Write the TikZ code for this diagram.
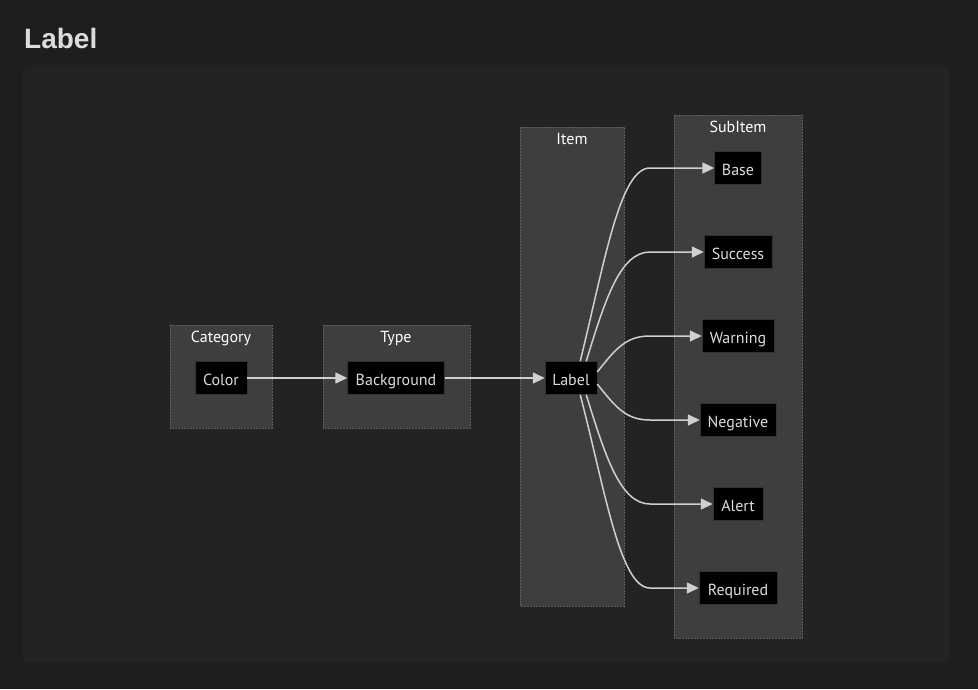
\documentclass[tikz,border=0pt]{standalone}
\usepackage{fontspec}
\setmainfont{PT Sans}
\newfontfamily\titlefont{Liberation Sans}
\usetikzlibrary{arrows.meta}
\definecolor{outerbg}{HTML}{1E1E1E}
\definecolor{panelbg}{HTML}{232323}
\definecolor{clusterfill}{HTML}{3D3E3D}
\definecolor{clusterline}{HTML}{5E5E5E}
\definecolor{edgecol}{HTML}{D0D0D0}
\definecolor{txtcol}{HTML}{DCDCDC}
\tikzset{
  cluster/.style={draw=clusterline, fill=clusterfill, line width=0.8pt, dash pattern=on 2pt off 1pt},
  clabel/.style={text=white, font=\fontsize{16}{17}\selectfont, inner sep=0pt, text height=11pt, text depth=3pt},
  box/.style={fill=black, draw=black!80, text=txtcol, font=\fontsize{16}{17}\selectfont, minimum height=33pt, inner xsep=2pt, inner ysep=0pt, text height=14pt, text depth=0pt},
  arr/.style={draw=edgecol, line width=1.5pt, -{Triangle[length=12pt,width=11pt]}},
}
\begin{document}
\begin{tikzpicture}[x=1pt,y=-1pt]
\useasboundingbox (0,0) rectangle (978,689);
\fill[outerbg] (0,0) rectangle (978,689);
\fill[panelbg, rounded corners=4pt] (23,67) rectangle (949,662);
\node[anchor=west, text=txtcol, font=\titlefont\bfseries\fontsize{28}{30}\selectfont, inner sep=0pt] (title) at (24,38) {Label};

% clusters
\draw[cluster] (170,325) rectangle (272,428);
\node[clabel] (catl) at (221,338) {Category};
\draw[cluster] (323,325) rectangle (470,428);
\node[clabel] (typel) at (396,338) {Type};
\draw[cluster] (520,127) rectangle (624,606);
\node[clabel] (iteml) at (572,140) {Item};
\draw[cluster] (674,115) rectangle (802,638);
\node[clabel] (subl) at (738,128) {SubItem};

% nodes
\node[box, minimum width=52pt] (color) at (221,378) {Color};
\node[box, minimum width=97pt] (bg) at (396,378) {Background};
\node[box, minimum width=52pt] (lab) at (571,378) {Label};
\node[box, minimum width=47pt] (base) at (738,168) {Base};
\node[box, minimum width=68pt] (succ) at (738,252) {Success};
\node[box, minimum width=72pt] (warn) at (738,336) {Warning};
\node[box, minimum width=76pt] (neg) at (738,420) {Negative};
\node[box, minimum width=50pt] (alert) at (738,504) {Alert};
\node[box, minimum width=78pt] (req) at (738,588) {Required};

% edges
\draw[arr] (color) -- (bg);
\draw[arr] (bg) -- (lab);
\draw[arr] (lab.north east) ++(-17,0) .. controls (605,260) and (620,168) .. (650,168) -- (base.west);
\draw[arr] (lab.north east) ++(-11,0) .. controls (605,300) and (620,252) .. (650,252) -- (succ.west);
\draw[arr] (lab.east) ++(0,-6) .. controls (615,350) and (625,336) .. (650,336) -- (warn.west);
\draw[arr] (lab.east) ++(0,6) .. controls (615,406) and (625,420) .. (650,420) -- (neg.west);
\draw[arr] (lab.south east) ++(-11,0) .. controls (605,455) and (620,504) .. (650,504) -- (alert.west);
\draw[arr] (lab.south east) ++(-17,0) .. controls (605,490) and (620,588) .. (650,588) -- (req.west);
\end{tikzpicture}
\end{document}
